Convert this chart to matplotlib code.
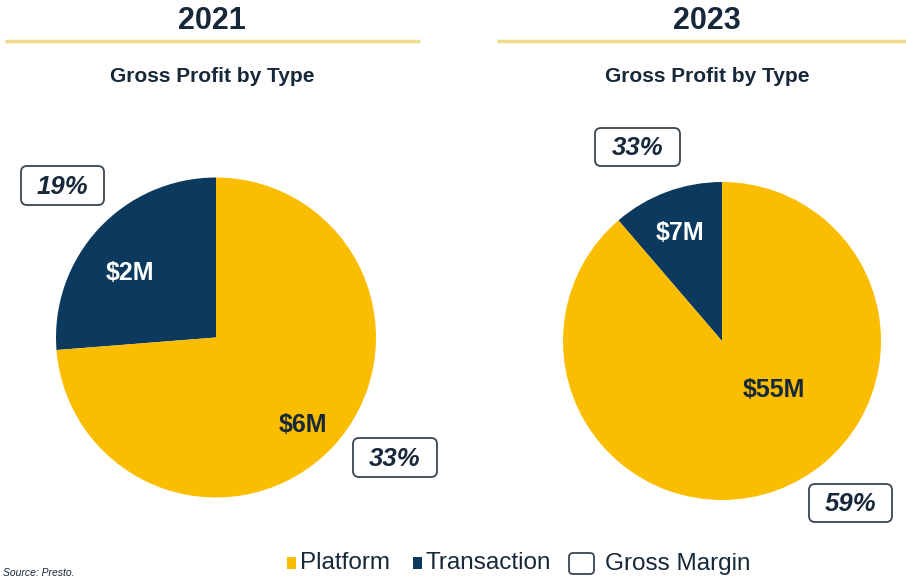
import numpy as np
import matplotlib.pyplot as plt
from matplotlib.patches import FancyBboxPatch, Rectangle

plt.rcParams['font.family'] = ['Liberation Sans', 'DejaVu Sans']

# data
years = ['2021', '2023']
segments = ['Transaction', 'Platform']
values_2021 = [2.1, 5.9]      # $M, slice sizes
values_2023 = [7, 55]
labels_2021 = ['$2M', '$6M']
labels_2023 = ['$7M', '$55M']
margin_2021 = ['19%', '33%']  # gross margin: transaction, platform
margin_2023 = ['33%', '59%']

yellow = '#FBBD00'
navy = '#0B3A5E'
dark = '#17283A'
line_col = '#EEDB8E'

W, H = 906, 578
fig = plt.figure(figsize=(W / 100, H / 100), dpi=100)


def pie_axes(cx, cy, r):
    return fig.add_axes([(cx - r) / W, (H - cy - r) / H, 2 * r / W, 2 * r / H])


# left pie
ax1 = pie_axes(216, 337.5, 160)
ax1.pie(values_2021, colors=[navy, yellow], startangle=90, counterclock=True,
        radius=1, wedgeprops=dict(linewidth=0))
ax1.set_xlim(-1, 1)
ax1.set_ylim(-1, 1)
ax1.axis('off')
for (r, a), lab, c in zip([(0.67, 143), (0.77, -45)], labels_2021, ['white', dark]):
    ax1.text(r * np.cos(np.radians(a)), r * np.sin(np.radians(a)), lab,
             ha='center', va='center', fontsize=18, fontweight='bold', color=c)

# right pie
ax2 = pie_axes(722, 341, 159)
ax2.pie(values_2023, colors=[navy, yellow], startangle=90, counterclock=True,
        radius=1, wedgeprops=dict(linewidth=0))
ax2.set_xlim(-1, 1)
ax2.set_ylim(-1, 1)
ax2.axis('off')
for (r, a), lab, c in zip([(0.73, 111), (0.45, -43)], labels_2023, ['white', dark]):
    ax2.text(r * np.cos(np.radians(a)), r * np.sin(np.radians(a)), lab,
             ha='center', va='center', fontsize=18, fontweight='bold', color=c)

# overlay for headers, margin boxes, legend
ov = fig.add_axes([0, 0, 1, 1])
ov.set_xlim(0, W)
ov.set_ylim(H, 0)
ov.axis('off')
ov.patch.set_alpha(0)

for x0, x1, xc, yr in [(5, 420, 212, years[0]), (497, 906, 707, years[1])]:
    ov.plot([x0, x1], [41, 41], color=line_col, lw=2.5, solid_capstyle='butt')
    ov.text(xc, 21, yr, ha='center', va='center', fontsize=22, fontweight='bold', color=dark)
    ov.text(xc, 77, 'Gross Profit by Type', ha='center', va='center', fontsize=15,
            fontweight='bold', color=dark)


def margin_box(x, y, w, h, txt):
    ov.add_patch(FancyBboxPatch((x, y), w, h, boxstyle='round,pad=0,rounding_size=6',
                                fc='white', ec='#3A4550', lw=1.3))
    ov.text(x + w / 2, y + h / 2 + 1, txt, ha='center', va='center', fontsize=18.5,
            fontweight='bold', fontstyle='italic', color=dark)


margin_box(21, 166, 83, 39, margin_2021[0])
margin_box(353, 438, 84, 39, margin_2021[1])
margin_box(595, 128, 85, 38, margin_2023[0])
margin_box(809, 484, 83, 38, margin_2023[1])

# legend
ov.add_patch(Rectangle((287, 557), 9, 12, fc=yellow, ec='none'))
ov.text(300, 563, 'Platform', ha='left', va='center', fontsize=17.5, color=dark)
ov.add_patch(Rectangle((413, 557), 9, 12, fc=navy, ec='none'))
ov.text(426, 563, 'Transaction', ha='left', va='center', fontsize=17.5, color=dark)
ov.add_patch(FancyBboxPatch((569, 553), 25, 21, boxstyle='round,pad=0,rounding_size=4',
                            fc='white', ec='#3A4550', lw=1.3))
ov.text(605, 564, 'Gross Margin', ha='left', va='center', fontsize=17.5, color=dark)

ov.text(3, 573, 'Source: Presto.', ha='left', va='center', fontsize=7.5,
        fontstyle='italic', color=dark)

fig.savefig('out.png', dpi=100)
